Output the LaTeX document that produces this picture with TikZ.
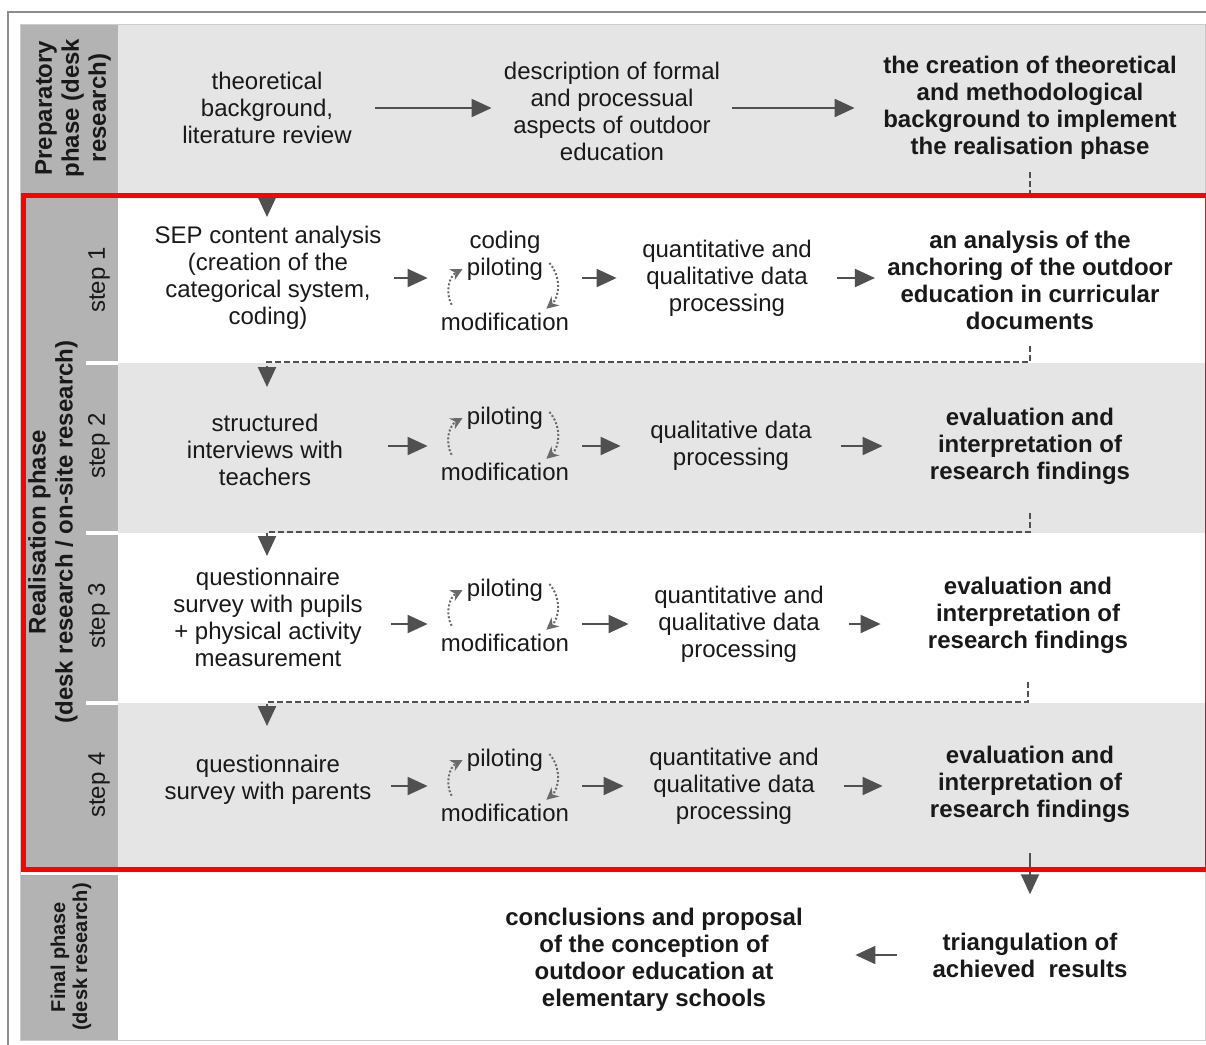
\documentclass[tikz,border=0pt]{standalone}
\usepackage{fontspec}
\setmainfont{Liberation Sans}
\usetikzlibrary{arrows.meta, positioning}

\definecolor{headgray}{HTML}{B3B3B3}
\definecolor{rowgray}{HTML}{E5E5E5}
\definecolor{arrowgray}{HTML}{505050}
\definecolor{cycgray}{HTML}{6A6A6A}
\definecolor{framegray}{HTML}{8C8C8C}
\definecolor{redframe}{HTML}{FF0000}

\begin{document}
\begin{tikzpicture}[x=0.5pt, y=-0.5pt,
    txt/.style={align=center, inner sep=0pt, text=black!90, font=\fontsize{12pt}{13.5pt}\selectfont},
    bold/.style={txt, font=\fontsize{12pt}{13.5pt}\selectfont\bfseries},
    colA/.style={txt, minimum width=111pt},
    colB/.style={txt, minimum width=65pt},
    colC/.style={txt, minimum width=98pt},
    colD/.style={bold, minimum width=135pt},
    arr/.style={draw=arrowgray, line width=1pt, -{Triangle[length=10pt, width=9pt]}, shorten <=6pt, shorten >=6pt},
    dashlink/.style={draw=arrowgray, line width=1.2pt, dash pattern=on 3pt off 1.5pt, -{Triangle[length=10pt, width=9pt]}, shorten <=6pt},
    cyc/.style={draw=cycgray, line width=1pt, densely dotted, -{Stealth[length=6pt, width=6pt, inset=2pt]}, bend left=45},
    rotlabel/.style={bold, rotate=90},
    steplabel/.style={txt, rotate=90}]

    \useasboundingbox (0,0) rectangle (1206,1045);

    % Border
    \draw[framegray, line width=1pt] (8,1045) -- (8,12) -- (1206,12);

    % Table
    \fill[headgray] (20,24) rectangle (118,193);
    \fill[headgray] (20,193) rectangle (118,870);
    \fill[headgray] (20,875) rectangle (118,1040);
    \fill[rowgray] (118,24) rectangle (1205,193);
    \fill[rowgray] (118,363) rectangle (1205,533);
    \fill[rowgray] (118,703) rectangle (1205,868);
    \draw[white, line width=2pt] (86,363) -- (118,363);
    \draw[white, line width=2pt] (86,533) -- (118,533);
    \draw[white, line width=2pt] (86,703) -- (118,703);
    \draw[gray!40, line width=0.5pt] (20,24) rectangle (1205,1040);

    % Phase labels
    \node[rotlabel] (prep) at (73,108) {Preparatory\\phase (desk\\research)};
    \node[rotlabel] (real) at (53,532) {Realisation phase\\(desk research / on-site research)};
    \node[rotlabel, font=\fontsize{10pt}{11pt}\selectfont\bfseries] (fin) at (71,957) {Final phase\\(desk research)};

    \node[steplabel] (s1) at (99,280) {step 1};
    \node[steplabel] (s2) at (99,446) {step 2};
    \node[steplabel] (s3) at (99,616) {step 3};
    \node[steplabel] (s4) at (99,785) {step 4};

    % Preparatory phase
    \node[txt, minimum width=96pt] (theo) at (267,108) {theoretical\\background,\\literature review};
    \node[txt, minimum width=103pt] (desc) at (612,111) {description of formal\\and processual\\aspects of outdoor\\education};
    \node[bold, minimum width=163pt] (creat) at (1030,108) {the creation of theoretical\\and methodological\\background to implement\\the realisation phase};

    \draw[arr] (theo.east) -- (theo.east -| desc.west);
    \draw[arr] (creat.west -| desc.east) -- (creat.west);

    % Step 1
    \node[colA] (sep1) at (268,278) {SEP content analysis\\(creation of the\\categorical system,\\coding)};
    \node[txt] (cod1) at (505,242) {coding};
    \node[txt] (pil1) at (505,269) {piloting};
    \node[colB] (mod1) at (505,322) {modification};
    \node[colC] (qd1) at (727,278) {quantitative and\\qualitative data\\processing};
    \node[colD] (ev1) at (1030,280) {an analysis of the\\anchoring of the outdoor\\education in curricular\\documents};

    \draw[arr] (qd1.west -| sep1.east) -- (qd1.west -| mod1.west);
    \draw[arr] (qd1.west -| mod1.east) -- (qd1.west);
    \draw[arr] (qd1.east) -- (qd1.east -| ev1.west);
    \draw[cyc] ([xshift=6pt, yshift=4pt]mod1.north west) to ([xshift=-2pt]pil1.west);
    \draw[cyc] ([xshift=3pt, yshift=3pt]pil1.east) to ([xshift=-12pt, yshift=2pt]mod1.north east);

    % Step 2
    \node[colA] (str2) at (265,450) {structured\\interviews with\\teachers};
    \node[txt] (pil2) at (505,418) {piloting};
    \node[colB] (mod2) at (505,472) {modification};
    \node[colC] (qd2) at (731,446) {qualitative data\\processing};
    \node[colD] (ev2) at (1030,446) {evaluation and\\interpretation of\\research findings};

    \draw[arr] (qd2.west -| str2.east) -- (qd2.west -| mod2.west);
    \draw[arr] (qd2.west -| mod2.east) -- (qd2.west);
    \draw[arr] (qd2.east) -- (qd2.east -| ev2.west);
    \draw[cyc] ([xshift=6pt, yshift=4pt]mod2.north west) to ([xshift=-2pt]pil2.west);
    \draw[cyc] ([xshift=3pt, yshift=3pt]pil2.east) to ([xshift=-12pt, yshift=2pt]mod2.north east);

    % Step 3
    \node[colA] (que3) at (268,617) {questionnaire\\survey with pupils\\+ physical activity\\measurement};
    \node[txt] (pil3) at (505,590) {piloting};
    \node[colB] (mod3) at (505,643) {modification};
    \node[colC] (qd3) at (739,624) {quantitative and\\qualitative data\\processing};
    \node[colD] (ev3) at (1028,615) {evaluation and\\interpretation of\\research findings};

    \draw[arr] (qd3.west -| que3.east) -- (qd3.west -| mod3.west);
    \draw[arr] (qd3.west -| mod3.east) -- (qd3.west);
    \draw[arr] (qd3.east) -- (qd3.east -| ev3.west);
    \draw[cyc] ([xshift=6pt, yshift=4pt]mod3.north west) to ([xshift=-2pt]pil3.west);
    \draw[cyc] ([xshift=3pt, yshift=3pt]pil3.east) to ([xshift=-12pt, yshift=2pt]mod3.north east);

    % Step 4
    \node[colA] (que4) at (268,780) {questionnaire\\survey with parents};
    \node[txt] (pil4) at (505,760) {piloting};
    \node[colB] (mod4) at (505,813) {modification};
    \node[colC] (qd4) at (734,786) {quantitative and\\qualitative data\\processing};
    \node[colD] (ev4) at (1030,784) {evaluation and\\interpretation of\\research findings};

    \draw[arr] (qd4.west -| que4.east) -- (qd4.west -| mod4.west);
    \draw[arr] (qd4.west -| mod4.east) -- (qd4.west);
    \draw[arr] (qd4.east) -- (qd4.east -| ev4.west);
    \draw[cyc] ([xshift=6pt, yshift=4pt]mod4.north west) to ([xshift=-2pt]pil4.west);
    \draw[cyc] ([xshift=3pt, yshift=3pt]pil4.east) to ([xshift=-12pt, yshift=2pt]mod4.north east);

    % Links between steps
    \coordinate (t1) at (267,195);
    \coordinate (in1) at (267,217);
    \coordinate (t2) at (267,362);
    \coordinate (in2) at (267,387);
    \coordinate (t3) at (267,532);
    \coordinate (in3) at (267,556);
    \coordinate (t4) at (267,702);
    \coordinate (in4) at (267,726);

    \draw[dashlink] (creat.south) |- (t1) -- (in1);
    \draw[dashlink, shorten <=8pt] (ev1.south) |- (t2) -- (in2);
    \draw[dashlink, shorten <=14pt] (ev2.south) |- (t3) -- (in3);
    \draw[dashlink, shorten <=14pt] (ev3.south) |- (t4) -- (in4);

    % Final phase
    \node[bold, minimum width=189pt] (concl) at (654,960) {conclusions and proposal\\of the conception of\\outdoor education at\\elementary schools};
    \node[bold, minimum width=121pt] (tri) at (1030,955) {triangulation of\\achieved\ \ results};

    \draw[arr, shorten <=15pt, shorten >=19pt] (ev4.south) -- (ev4.south |- tri.north);
    \draw[arr] (tri.west) -- (tri.west -| concl.east);

    % Realisation frame
    \draw[redframe, line width=2.5pt] (23,195.5) rectangle (1207,869);

\end{tikzpicture}
\end{document}
